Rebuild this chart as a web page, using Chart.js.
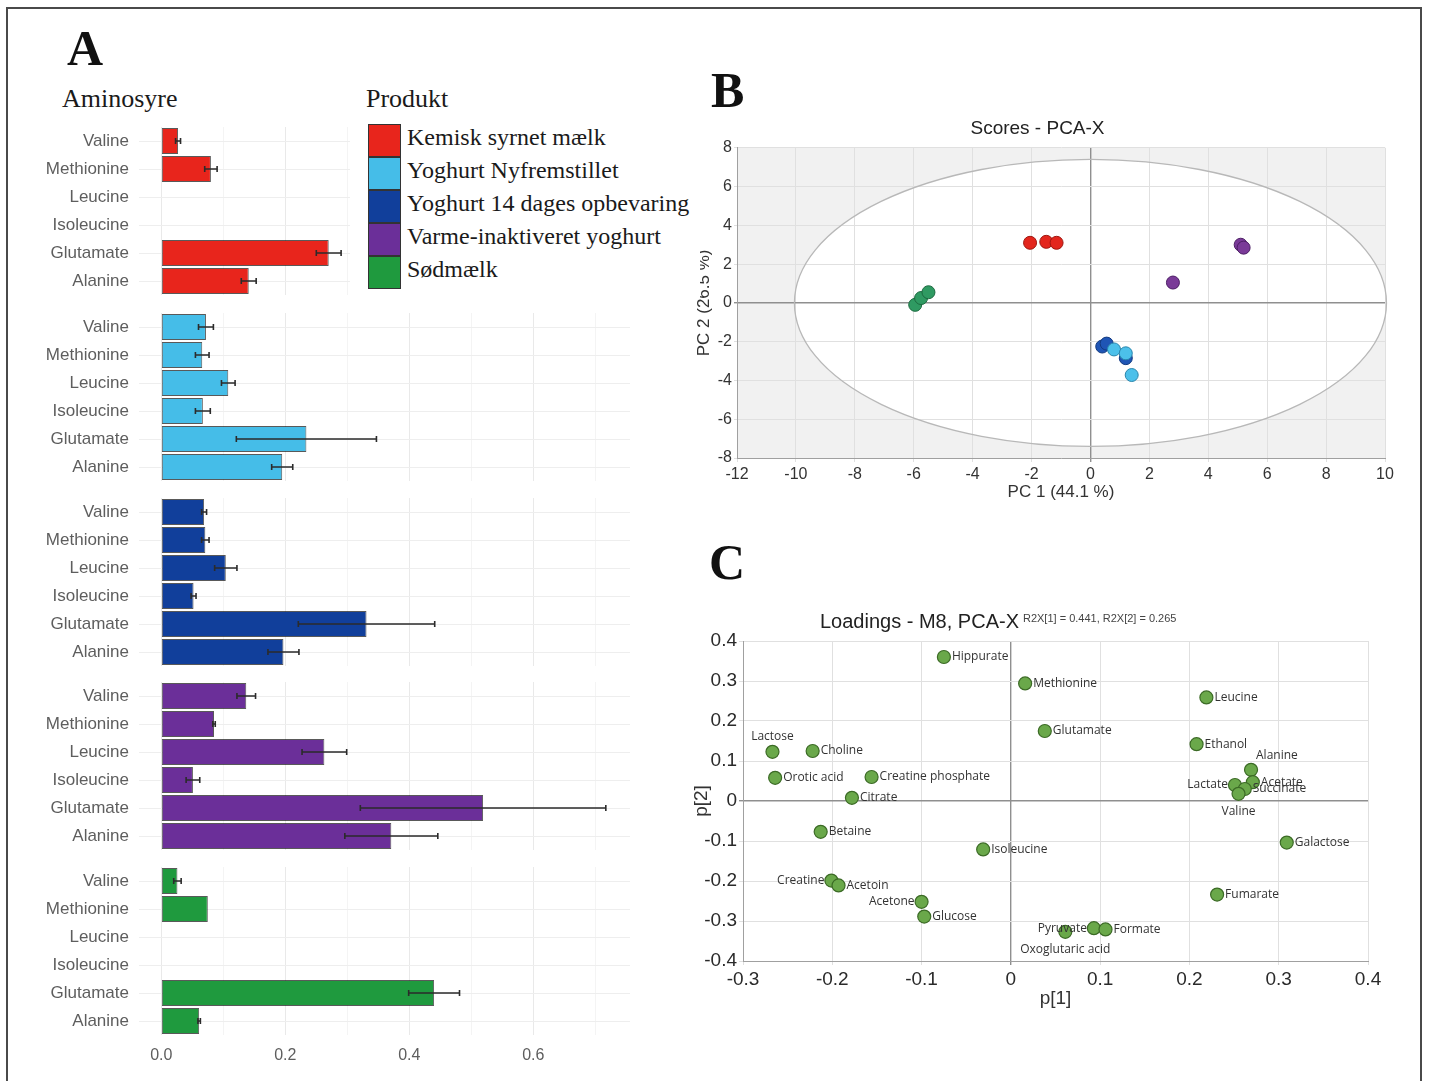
<!DOCTYPE html>
<html>
<head>
<meta charset="utf-8">
<title>Aminosyrer og PCA</title>
<script src="https://cdn.jsdelivr.net/npm/chart.js@4.4.1/dist/chart.umd.min.js"></script>
<style>
  body { margin: 0; background: #fff; }
  #page { position: relative; width: 1429px; height: 1081px; overflow: hidden; background: #fff; }
  #page canvas { position: absolute; }
  .ramme { position: absolute; left: 6px; top: 7px; width: 1412px; height: 1100px; border: 2px solid #4a4a4a; border-bottom: none; }
  .serif { position: absolute; font-family: "Liberation Serif", "Times New Roman", serif; color: #1a1a1a; white-space: nowrap; line-height: 1; }
  .bogstav { font-weight: bold; font-size: 50px; color: #111; }
  #legend { position: absolute; left: 350px; top: 116px; width: 350px; height: 182px; background: #fff; z-index: 2; }
  .felt { position: absolute; left: 18px; width: 31px; height: 31px; border: 1px solid #333; }
  .tekst { position: absolute; left: 57px; font-size: 24px; }
</style>
</head>
<body>
<div id="page">
  <div class="ramme"></div>
  <div class="serif bogstav" style="left:67px;top:23px">A</div>
  <div class="serif bogstav" style="left:711px;top:65px">B</div>
  <div class="serif bogstav" style="left:709px;top:537px">C</div>
  <div class="serif" style="left:62px;top:86px;font-size:26px">Aminosyre</div>
  <div class="serif" style="left:366px;top:86px;font-size:26px">Produkt</div>
  <div id="legend"></div>
</div>
<script>
Chart.defaults.font.family = '"Liberation Sans", Arial, sans-serif';
Chart.defaults.animation = false;

// ---------- A: aminosyrer pr. produkt ----------
var aminoLabels = ['Valine', 'Methionine', 'Leucine', 'Isoleucine', 'Glutamate', 'Alanine'];
var products = ['Kemisk syrnet mælk', 'Yoghurt Nyfremstillet', 'Yoghurt 14 dages opbevaring', 'Varme-inaktiveret yoghurt', 'Sødmælk'];
var productColors = ['#e8251c', '#45bde8', '#113f9b', '#6b2f99', '#1f9a3e'];

var kemiskValues = [0.027, 0.080, null, null, 0.270, 0.141];
var kemiskErr    = [0.004, 0.010, null, null, 0.020, 0.012];
var nyValues     = [0.072, 0.066, 0.108, 0.067, 0.234, 0.195];
var nyErr        = [0.012, 0.011, 0.011, 0.012, 0.113, 0.017];
var dage14Values = [0.069, 0.071, 0.104, 0.052, 0.331, 0.197];
var dage14Err    = [0.004, 0.006, 0.018, 0.004, 0.110, 0.025];
var varmeValues  = [0.137, 0.085, 0.263, 0.051, 0.519, 0.371];
var varmeErr     = [0.015, 0.002, 0.036, 0.011, 0.198, 0.075];
var soedValues   = [0.026, 0.075, null, null, 0.440, 0.061];
var soedErr      = [0.006, 0.000, null, null, 0.041, 0.002];
var barXTicks = [0, 0.1, 0.2, 0.3, 0.4, 0.5, 0.6, 0.7];

// ---------- B: scores ----------
var kemiskPC1 = [-2.05, -1.5, -1.15];
var kemiskPC2 = [3.1, 3.15, 3.1];
var nyPC1 = [0.8, 1.2, 1.4];
var nyPC2 = [-2.4, -2.6, -3.72];
var dage14PC1 = [0.4, 0.55, 1.2];
var dage14PC2 = [-2.25, -2.1, -2.85];
var varmePC1 = [5.1, 5.2, 2.8];
var varmePC2 = [3.0, 2.85, 1.05];
var soedPC1 = [-5.95, -5.75, -5.5];
var soedPC2 = [-0.1, 0.25, 0.55];
var scoreColors = ['#e3261d', '#4cc0ea', '#1f55b5', '#7a3a98', '#2f9a62'];
var scoreBorders = ['#9e1710', '#2a86ad', '#133a80', '#4d1f66', '#1c6a40'];
var ellipseA = 10.05, ellipseB = 7.4;   // Hotelling T2 grænse

// ---------- C: loadings ----------
var loadingNames = ['Hippurate', 'Methionine', 'Leucine', 'Glutamate', 'Ethanol', 'Alanine', 'Acetate', 'Lactate', 'Succinate', 'Valine',
  'Galactose', 'Fumarate', 'Lactose', 'Choline', 'Orotic acid', 'Creatine phosphate', 'Citrate', 'Betaine', 'Isoleucine', 'Creatine',
  'Acetoin', 'Acetone', 'Glucose', 'Pyruvate', 'Formate', 'Oxoglutaric acid'];
var loadingP1 = [-0.075, 0.016, 0.219, 0.038, 0.208, 0.269, 0.271, 0.251, 0.262, 0.255,
  0.309, 0.231, -0.267, -0.222, -0.264, -0.156, -0.178, -0.213, -0.031, -0.201,
  -0.193, -0.100, -0.097, 0.093, 0.106, 0.061];
var loadingP2 = [0.360, 0.294, 0.259, 0.175, 0.142, 0.078, 0.047, 0.040, 0.030, 0.018,
  -0.104, -0.234, 0.123, 0.125, 0.058, 0.060, 0.008, -0.077, -0.121, -0.199,
  -0.211, -0.252, -0.289, -0.318, -0.321, -0.327];
// hvor navnet står i forhold til punktet
var loadingLabelSide = ['r', 'r', 'r', 'r', 'r', 'ar', 'r', 'l', 'r', 'b',
  'r', 'r', 'a', 'r', 'r', 'r', 'r', 'r', 'r', 'l',
  'r', 'l', 'r', 'l', 'r', 'b'];

var barValues = [kemiskValues, nyValues, dage14Values, varmeValues, soedValues];
var barErrors = [kemiskErr, nyErr, dage14Err, varmeErr, soedErr];
var scorePC1 = [kemiskPC1, nyPC1, dage14PC1, varmePC1, soedPC1];
var scorePC2 = [kemiskPC2, nyPC2, dage14PC2, varmePC2, soedPC2];

var page = document.getElementById('page');

function nytLaerred(left, top, w, h) {
  var c = document.createElement('canvas');
  c.width = w; c.height = h;
  c.style.left = left + 'px';
  c.style.top = top + 'px';
  c.style.width = w + 'px';
  c.style.height = h + 'px';
  page.appendChild(c);
  return c;
}

// legenden
var legend = document.getElementById('legend');
for (var i = 0; i < products.length; i++) {
  var f = document.createElement('div');
  f.className = 'felt';
  f.style.top = (8 + 33 * i) + 'px';
  f.style.background = productColors[i];
  legend.appendChild(f);
  var t = document.createElement('div');
  t.className = 'serif tekst';
  t.style.top = (9 + 33 * i) + 'px';
  t.textContent = products[i];
  legend.appendChild(t);
}

// fejlstreger tegnet via x-skalaen
var errorBarPlugin = {
  id: 'errorBars',
  afterDatasetsDraw: function (chart, args, opts) {
    var ctx = chart.ctx;
    var xs = chart.scales.x;
    var meta = chart.getDatasetMeta(0);
    var vals = chart.data.datasets[0].data;
    var errs = opts.errors;
    ctx.save();
    ctx.strokeStyle = '#2b2b2b';
    ctx.lineWidth = 1.6;
    for (var i = 0; i < vals.length; i++) {
      if (vals[i] == null || !errs[i]) continue;
      var y = meta.data[i].y;
      var x1 = xs.getPixelForValue(vals[i] - errs[i]);
      var x2 = xs.getPixelForValue(vals[i] + errs[i]);
      ctx.beginPath();
      ctx.moveTo(x1, y); ctx.lineTo(x2, y);
      ctx.moveTo(x1, y - 3); ctx.lineTo(x1, y + 3);
      ctx.moveTo(x2, y - 3); ctx.lineTo(x2, y + 3);
      ctx.stroke();
    }
    ctx.restore();
  }
};

var groupTops = [127, 313, 498, 682, 867];

function lavBarGraf(idx) {
  var sidste = idx === barValues.length - 1;
  var c = nytLaerred(30, groupTops[idx], 600, sidste ? 198 : 168);
  new Chart(c, {
    type: 'bar',
    data: {
      labels: aminoLabels,
      datasets: [{
        data: barValues[idx],
        backgroundColor: productColors[idx],
        borderColor: 'rgba(0,0,0,0.65)',
        borderWidth: 1,
        borderSkipped: false,
        categoryPercentage: 0.93,
        barPercentage: 1
      }]
    },
    options: {
      indexAxis: 'y',
      responsive: false,
      layout: { padding: 0 },
      plugins: {
        legend: { display: false },
        tooltip: { enabled: false },
        errorBars: { errors: barErrors[idx] }
      },
      scales: {
        x: {
          type: 'linear',
          min: -0.036,
          max: 0.756,
          afterBuildTicks: function (s) { s.ticks = barXTicks.map(function (v) { return { value: v }; }); },
          grid: {
            drawTicks: false,
            color: function (ctx) {
              var v = Math.round(ctx.tick.value * 10);
              return v % 2 === 0 ? '#e9e9e9' : '#f4f4f4';
            }
          },
          border: { display: false },
          ticks: {
            display: sidste,
            color: '#5e5e5e',
            font: { size: 16 },
            padding: 11,
            callback: function (v) {
              var k = Math.round(v * 10);
              return k % 2 === 0 ? v.toFixed(1) : '';
            }
          },
          afterFit: function (s) {
            s.height = sidste ? 30 : 0;
            s.paddingLeft = 0; s.paddingRight = 0;
          }
        },
        y: {
          grid: { color: '#eeeeee', drawTicks: false, offset: false },
          border: { display: false },
          ticks: { color: '#5e5e5e', font: { size: 17 }, padding: 10 },
          afterFit: function (s) {
            s.width = 109;
            s.paddingTop = 0; s.paddingBottom = 0;
          }
        }
      }
    },
    plugins: [errorBarPlugin]
  });
}
for (var g = 0; g < barValues.length; g++) lavBarGraf(g);

// ---------- B ----------
var pcaBaggrund = {
  id: 'pcaBaggrund',
  beforeDraw: function (chart) {
    var ctx = chart.ctx, a = chart.chartArea, x = chart.scales.x, y = chart.scales.y;
    var cx = x.getPixelForValue(0), cy = y.getPixelForValue(0);
    var rx = x.getPixelForValue(ellipseA) - cx, ry = cy - y.getPixelForValue(ellipseB);
    ctx.save();
    ctx.fillStyle = '#f1f1f1';
    ctx.fillRect(a.left, a.top, a.width, a.height);
    ctx.beginPath();
    ctx.ellipse(cx, cy, rx, ry, 0, 0, Math.PI * 2);
    ctx.fillStyle = '#ffffff';
    ctx.fill();
    ctx.restore();
  },
  beforeDatasetsDraw: function (chart) {
    var ctx = chart.ctx, x = chart.scales.x, y = chart.scales.y;
    var cx = x.getPixelForValue(0), cy = y.getPixelForValue(0);
    var rx = x.getPixelForValue(ellipseA) - cx, ry = cy - y.getPixelForValue(ellipseB);
    ctx.save();
    ctx.beginPath();
    ctx.ellipse(cx, cy, rx, ry, 0, 0, Math.PI * 2);
    ctx.strokeStyle = '#b8b8b8';
    ctx.lineWidth = 1.3;
    ctx.stroke();
    ctx.restore();
  }
};

var scoreSets = products.map(function (p, i) {
  return {
    label: p,
    data: scorePC1[i].map(function (v, j) { return { x: v, y: scorePC2[i][j] }; }),
    backgroundColor: scoreColors[i],
    borderColor: scoreBorders[i],
    borderWidth: 1,
    pointRadius: 6.5
  };
});

function nulLinje(ctx) { return ctx.tick.value === 0 ? '#8f8f8f' : '#e0e0e0'; }

new Chart(nytLaerred(690, 108, 720, 397), {
  type: 'scatter',
  data: { datasets: scoreSets },
  options: {
    responsive: false,
    layout: { padding: { right: 25 } },
    plugins: {
      legend: { display: false },
      tooltip: { enabled: false },
      title: { display: true, text: 'Scores - PCA-X', color: '#222', font: { size: 19, weight: 'normal' }, padding: { top: 9, bottom: 8 } }
    },
    scales: {
      x: {
        type: 'linear', min: -12, max: 10,
        ticks: { stepSize: 2, color: '#333', font: { size: 16 }, padding: 3 },
        grid: { color: nulLinje, lineWidth: function (c) { return c.tick.value === 0 ? 1.4 : 1; }, tickLength: 4 },
        border: { color: '#a0a0a0' },
        title: { display: true, text: 'PC 1 (44.1 %)', color: '#333', font: { size: 17 }, padding: { top: 0, bottom: 2 } },
        afterFit: function (s) { s.height = 47; }
      },
      y: {
        min: -8, max: 8,
        ticks: { stepSize: 2, color: '#333', font: { size: 16 }, padding: 2 },
        grid: { color: nulLinje, lineWidth: function (c) { return c.tick.value === 0 ? 1.4 : 1; }, tickLength: 3 },
        border: { color: '#a0a0a0' },
        title: { display: true, text: 'PC 2 (26.5 %)', color: '#333', font: { size: 17 }, padding: { top: 4, bottom: 0 } },
        afterFit: function (s) { s.width = 47; }
      }
    }
  },
  plugins: [pcaBaggrund]
});

// ---------- C ----------
var loadingTitle = 'Loadings - M8, PCA-X';
var loadingSubtitle = 'R2X[1] = 0.441, R2X[2] = 0.265';

var loadingTekst = {
  id: 'loadingTekst',
  afterDatasetsDraw: function (chart) {
    var ctx = chart.ctx;
    var meta = chart.getDatasetMeta(0);
    ctx.save();
    ctx.font = '12px "Open Sans", "DejaVu Sans", sans-serif';
    ctx.fillStyle = '#333';
    ctx.textBaseline = 'middle';
    for (var i = 0; i < loadingNames.length; i++) {
      var p = meta.data[i];
      var s = loadingLabelSide[i];
      if (s === 'r') { ctx.textAlign = 'left'; ctx.fillText(loadingNames[i], p.x + 8, p.y); }
      else if (s === 'l') { ctx.textAlign = 'right'; ctx.fillText(loadingNames[i], p.x - 7, p.y); }
      else if (s === 'a') { ctx.textAlign = 'center'; ctx.fillText(loadingNames[i], p.x, p.y - 15); }
      else if (s === 'ar') { ctx.textAlign = 'left'; ctx.fillText(loadingNames[i], p.x + 5, p.y - 14); }
      else if (s === 'b') { ctx.textAlign = 'center'; ctx.fillText(loadingNames[i], p.x, p.y + 18); }
    }
    ctx.restore();
  },
  afterDraw: function (chart) {
    var ctx = chart.ctx, a = chart.chartArea;
    var tx = a.left + 77, ty = a.top - 19;
    ctx.save();
    ctx.textBaseline = 'middle';
    ctx.textAlign = 'left';
    ctx.font = '20px "Liberation Sans", Arial, sans-serif';
    ctx.fillStyle = '#222';
    ctx.fillText(loadingTitle, tx, ty);
    var w = ctx.measureText(loadingTitle).width;
    ctx.font = '11px "Liberation Sans", Arial, sans-serif';
    ctx.fillStyle = '#444';
    ctx.fillText(loadingSubtitle, tx + w + 4, ty - 3);
    ctx.restore();
  }
};

new Chart(nytLaerred(690, 600, 720, 412), {
  type: 'scatter',
  data: {
    datasets: [{
      data: loadingP1.map(function (v, i) { return { x: v, y: loadingP2[i] }; }),
      backgroundColor: '#6aa84a',
      borderColor: '#3c6b26',
      borderWidth: 1.2,
      pointRadius: 6.5
    }]
  },
  options: {
    responsive: false,
    layout: { padding: { top: 41, right: 42 } },
    plugins: { legend: { display: false }, tooltip: { enabled: false } },
    scales: {
      x: {
        type: 'linear', min: -0.3, max: 0.4,
        ticks: { stepSize: 0.1, color: '#2a2a2a', font: { size: 19 }, padding: 3,
          callback: function (v) { return Math.abs(v) < 1e-9 ? '0' : Number(v.toFixed(1)).toString(); } },
        grid: { color: nulLinje, lineWidth: function (c) { return c.tick.value === 0 ? 1.4 : 1; }, tickLength: 4 },
        border: { color: '#a0a0a0' },
        title: { display: true, text: 'p[1]', color: '#333', font: { size: 19 }, padding: { top: 0, bottom: 2 } },
        afterFit: function (s) { s.height = 51; }
      },
      y: {
        min: -0.4, max: 0.4,
        ticks: { stepSize: 0.1, color: '#2a2a2a', font: { size: 19 }, padding: 2,
          callback: function (v) { return Math.abs(v) < 1e-9 ? '0' : Number(v.toFixed(1)).toString(); } },
        grid: { color: nulLinje, lineWidth: function (c) { return c.tick.value === 0 ? 1.4 : 1; }, tickLength: 4 },
        border: { color: '#a0a0a0' },
        title: { display: true, text: 'p[2]', color: '#333', font: { size: 19 }, padding: { top: 0, bottom: 0 } },
        afterFit: function (s) { s.width = 53; }
      }
    }
  },
  plugins: [loadingTekst]
});
</script>
</body>
</html>
